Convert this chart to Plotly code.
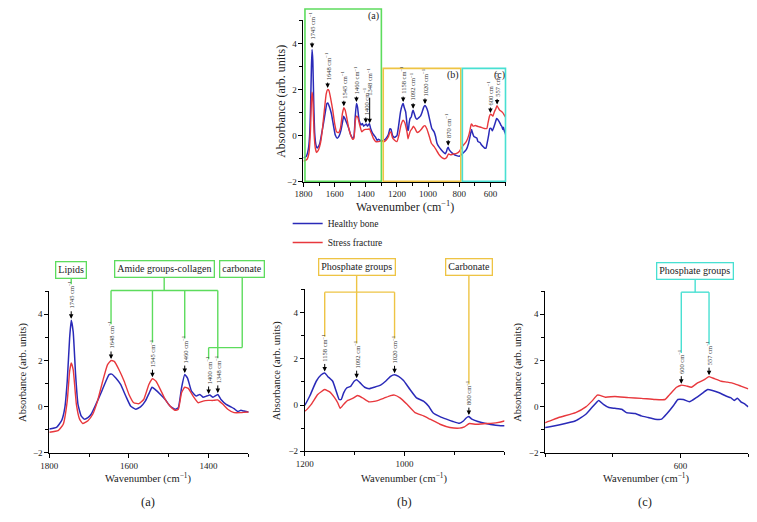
import numpy as np
import plotly.graph_objects as go

# the page body keeps an 8px margin, so the figure is laid out in page pixels minus that offset
OFF = 8
FW, FH = 741, 506
FONT = "Liberation Serif"
BLUE = "#2a2ab8"
RED = "#e8383d"
GREEN = "#5ddc5d"
YELLOW = "#eec444"
CYAN = "#48e0d2"

# FTIR spectra (wavenumber in cm-1, absorbance in arb. units)
wn_healthy = [1800, 1782, 1769, 1761, 1755, 1749, 1745, 1740, 1734, 1728, 1720, 1712, 1703, 1695,
              1683, 1670, 1658, 1650, 1643, 1633, 1621, 1608, 1596, 1583, 1571, 1559, 1549, 1542,
              1534, 1521, 1509, 1497, 1484, 1476, 1468, 1460, 1453, 1443, 1431, 1422, 1414, 1405,
              1397, 1389, 1377, 1369, 1356, 1344, 1336, 1327, 1319, 1311, 1300, 1285, 1270, 1255,
              1245, 1238, 1228, 1215, 1207, 1200, 1190, 1177, 1167, 1160, 1154, 1144, 1137, 1131,
              1127, 1122, 1116, 1108, 1101, 1096, 1089, 1080, 1071, 1061, 1048, 1038, 1028, 1020,
              1012, 1002, 989, 976, 962, 952, 943, 929, 916, 903, 890, 882, 877, 871, 865, 853,
              837, 817, 800, 780, 755, 740, 731, 721, 714, 706, 697, 687, 680, 667, 658, 648, 638,
              628, 621, 611, 604, 596, 587, 577, 567, 560, 553, 543, 533, 526, 521, 516, 511, 506, 500]
abs_healthy = [-0.97, -0.9, -0.6, -0.04, 1.1, 2.96, 3.74, 3.24, 1.39, 0.1, -0.4, -0.54, -0.47, -0.33,
               0.1, 0.6, 1.1, 1.39, 1.41, 1.24, 0.96, 0.46, 0.03, -0.11, -0.01, 0.24, 0.6, 0.84,
               0.74, 0.53, 0.31, 0.03, -0.11, -0.04, 0.81, 1.39, 1.24, 0.67, 0.46, 0.53, 0.41, 0.46,
               0.5, 0.41, 0.53, 0.31, 0.1, -0.01, -0.09, -0.21, -0.16, -0.19, -0.23, -0.2, -0.12, 0.05,
               0.3, 0.28, 0.0, -0.08, -0.04, 0.0, 0.39, 1.03, 1.31, 1.39, 1.24, 1.03, 0.6, 0.24,
               0.24, 0.53, 0.74, 0.81, 1.03, 1.1, 0.96, 0.77, 0.71, 0.77, 0.86, 1.03, 1.24, 1.31,
               1.24, 1.06, 0.67, 0.31, 0.17, -0.04, -0.33, -0.5, -0.61, -0.71, -0.79, -0.69, -0.57, -0.5, -0.61, -0.71,
               -0.8, -0.87, -0.9, -0.79, -0.61, -0.33, -0.04, 0.27, 0.1, -0.04, -0.07, -0.11, -0.26, -0.3, -0.4, -0.47, -0.54,
               -0.54, -0.33, 0.03, 0.31, 0.31, 0.21, 0.39, 0.6, 0.74, 0.7, 0.6, 0.46, 0.39, 0.27, 0.36, 0.21, 0.13, -0.01]

wn_fracture = [1800, 1778, 1765, 1755, 1749, 1745, 1740, 1732, 1724, 1716, 1703, 1691, 1679, 1666,
               1654, 1645, 1637, 1625, 1612, 1600, 1588, 1575, 1563, 1550, 1541, 1532, 1521, 1509,
               1497, 1484, 1476, 1468, 1460, 1451, 1439, 1426, 1414, 1401, 1389, 1377, 1364, 1352,
               1336, 1319, 1300, 1285, 1270, 1255, 1245, 1238, 1228, 1215, 1200, 1187, 1174, 1160,
               1150, 1141, 1134, 1129, 1122, 1114, 1104, 1094, 1084, 1071, 1058, 1042, 1028, 1020,
               1009, 995, 979, 962, 949, 929, 909, 890, 880, 870, 857, 837, 817, 800, 780, 755, 740,
               731, 723, 719, 711, 697, 677, 658, 638, 623, 616, 606, 599, 592, 584, 575, 565, 558,
               550, 540, 531, 521, 511, 500]
abs_fracture = [-1.11, -1.04, -0.76, 0.24, 1.53, 1.89, 1.6, 0.1, -0.54, -0.73, -0.61, -0.33, 0.24, 1.1,
                1.81, 2.0, 1.96, 1.6, 1.1, 0.53, 0.17, 0.13, 0.31, 0.96, 1.21, 1.1, 0.74, 0.31,
                0.03, -0.16, -0.11, 0.6, 0.84, 0.79, 0.46, 0.17, 0.24, 0.27, 0.27, 0.29, 0.1, -0.11,
                -0.26, -0.26, -0.23, -0.27, -0.2, -0.05, 0.15, 0.14, -0.1, -0.2, -0.26, 0.03, 0.46, 0.67,
                0.57, 0.34, 0.1, -0.14, 0.03, 0.2, 0.29, 0.41, 0.31, 0.14, 0.17, 0.29, 0.41, 0.43,
                0.31, 0.03, -0.33, -0.47, -0.61, -0.83, -0.97, -1.0, -0.94, -0.8, -0.83, -0.8, -0.77, -0.69, -0.47, -0.26, -0.01,
                0.24, 0.5, 0.49, 0.41, 0.44, 0.39, 0.36, 0.31, 0.31, 0.53, 0.84, 0.93, 0.9, 0.84, 1.03, 1.17, 1.3,
                1.21, 1.1, 1.06, 1.0, 0.89, 0.77]

# peak markers: where the arrow points / the number printed beside it
top_peaks = [1745, 1645, 1541, 1460, 1400, 1375, 1160, 1096, 1020, 871, 600, 557]
top_peak_text = ["1745", "1648", "1545", "1460", "1400", "1348", "1158", "1092", "1020", "870", "600", "557"]
a_peaks = [1745, 1645, 1541, 1460, 1400, 1377]
a_peak_text = ["1745", "1648", "1545", "1460", "1400", "1348"]
b_peaks = [1160, 1096, 1020, 871]
b_peak_text = ["1158", "1092", "1020", "800"]
c_peaks = [599, 558]
c_peak_text = ["600", "557"]

# panel geometry in page pixels: x span, y span (value 5 .. -2), x range
PANELS = {
    "top": dict(px=(298, 503), py=(20.6, 183.4), xr=(1800, 500), ax=("x", "y")),
    "a": dict(px=(40.7, 242.3), py=(294, 457.3), xr=(1800, 1300), ax=("x2", "y2")),
    "b": dict(px=(299.3, 501.3), py=(292.3, 455.7), xr=(1200, 800), ax=("x3", "y3")),
    "c": dict(px=(542.7, 748.3), py=(294, 457.3), xr=(800, 500), ax=("x4", "y4")),
}
YR = (-2, 5)


def xpx(p, v):
    g = PANELS[p]
    r0, r1 = g["xr"]
    return g["px"][0] + (v - r0) / (r1 - r0) * (g["px"][1] - g["px"][0])


def ypx(p, v):
    g = PANELS[p]
    return g["py"][1] - (v - YR[0]) / (YR[1] - YR[0]) * (g["py"][1] - g["py"][0])


def fx(px):
    return (px - OFF) / FW


def fy(py):
    return 1 - (py - OFF) / FH


def peak_height(v):
    h = np.interp(v, wn_healthy[::-1], abs_healthy[::-1])
    f = np.interp(v, wn_fracture[::-1], abs_fracture[::-1])
    return max(h, f)


def note(text, x, y, **kw):
    d = dict(text=text, x=fx(x), y=fy(y), xref="paper", yref="paper", showarrow=False,
             xanchor="center", yanchor="middle")
    d.update(kw)
    return d


fig = go.Figure()
annotations = []
shapes = []

for name, g in PANELS.items():
    xa, ya = g["ax"]
    first = name == "top"
    fig.add_trace(go.Scatter(x=wn_healthy, y=abs_healthy, mode="lines", name="Healthy bone",
                             line=dict(color=BLUE, width=1.5, shape="spline", smoothing=0.4),
                             xaxis=xa, yaxis=ya, showlegend=first))
    fig.add_trace(go.Scatter(x=wn_fracture, y=abs_fracture, mode="lines", name="Stress fracture",
                             line=dict(color=RED, width=1.4, shape="spline", smoothing=0.4),
                             xaxis=xa, yaxis=ya, showlegend=first))

tick_vals = {
    "top": [1800, 1600, 1400, 1200, 1000, 800, 600],
    "a": [1800, 1600, 1400],
    "b": [1200, 1000],
    "c": [600],
}

layout_axes = {}
for name, g in PANELS.items():
    xa, ya = g["ax"]
    xkey = "xaxis" + xa[1:]
    ykey = "yaxis" + ya[1:]
    common = dict(showline=True, linecolor="black", linewidth=1, ticks="outside", ticklen=4,
                  tickcolor="black", showgrid=False, zeroline=False,
                  tickfont=dict(family=FONT, size=9, color="#222"))
    layout_axes[xkey] = dict(common, domain=[fx(g["px"][0]), fx(g["px"][1])], range=list(g["xr"]),
                             anchor=ya, tickmode="array", tickvals=tick_vals[name],
                             minor=dict(dtick=100, ticks="outside", ticklen=3, tickcolor="black"))
    layout_axes[ykey] = dict(common, domain=[fy(g["py"][1]), fy(g["py"][0])], range=list(YR),
                             anchor=xa, tickmode="array", tickvals=[-2, 0, 2, 4],
                             minor=dict(dtick=1, ticks="outside", ticklen=3, tickcolor="black"))

# axis titles
title_font_top = dict(family=FONT, size=12, color="#222")
title_font_bot = dict(family=FONT, size=10.5, color="#222")
axis_titles = [
    ("top", 275, 208, title_font_top),
    ("a", 14, 482.5, title_font_bot),
    ("b", 272, 482.5, title_font_bot),
    ("c", 515, 482.5, title_font_bot),
]
for name, ytx, xty, fnt in axis_titles:
    g = PANELS[name]
    annotations.append(note("Absorbance (arb. units)", ytx, (g["py"][0] + g["py"][1]) / 2,
                            textangle=-90, font=fnt))
    annotations.append(note("Wavenumber (cm<sup>−1</sup>)", (g["px"][0] + g["px"][1]) / 2, xty, font=fnt))

for lab, x in [("(a)", 141), ("(b)", 400), ("(c)", 644)]:
    annotations.append(note(lab, x, 507, font=dict(family=FONT, size=12.5, color="#222")))

# peak labels with arrows; keeps the pixel position of each label's upper end
label_top = {}


def add_peaks(panel, peaks, texts, arrow=9, long_arrow=None):
    for v, t in zip(peaks, texts):
        al = arrow
        if long_arrow and t in long_arrow:
            al = long_arrow[t]
        tip_y = ypx(panel, peak_height(v)) - 1.5
        x = xpx(panel, v)
        annotations.append(dict(text="", x=fx(x), y=fy(tip_y), xref="paper", yref="paper",
                                showarrow=True, ax=0, ay=-al, arrowhead=2, arrowsize=0.9,
                                arrowwidth=1, arrowcolor="black"))
        annotations.append(note(t + " cm<sup>−1</sup>", x, tip_y - al, textangle=-90,
                                yanchor="bottom", borderpad=0,
                                font=dict(family=FONT, size=6.5, color="#333")))
        label_top[(panel, t)] = (x, tip_y - al - (26 if len(t) == 4 else 22))


add_peaks("top", top_peaks, top_peak_text, arrow=7, long_arrow={"1348": 27})
add_peaks("a", a_peaks, a_peak_text)
add_peaks("b", b_peaks, b_peak_text)
add_peaks("c", c_peaks, c_peak_text)

# region boxes on the overview spectrum
box_style = dict(type="rect", xref="paper", yref="paper", fillcolor="rgba(0,0,0,0)", layer="above")
shapes.append(dict(box_style, x0=fx(299.5), x1=fx(xpx("top", 1300)), y0=fy(183), y1=fy(9),
                   line=dict(color=GREEN, width=1.6)))
shapes.append(dict(box_style, x0=fx(xpx("top", 1288)), x1=fx(xpx("top", 790)), y0=fy(183), y1=fy(69),
                   line=dict(color=YELLOW, width=1.6)))
shapes.append(dict(box_style, x0=fx(xpx("top", 780)), x1=fx(502.5), y0=fy(183), y1=fy(69),
                   line=dict(color=CYAN, width=1.6)))
for lab, x, y in [("(a)", 369, 16), ("(b)", 449, 76), ("(c)", 496, 76)]:
    annotations.append(note(lab, x, y, font=dict(family=FONT, size=10, color="#222")))


def seg(x0, y0, x1, y1, color):
    shapes.append(dict(type="line", xref="paper", yref="paper", x0=fx(x0), y0=fy(y0),
                       x1=fx(x1), y1=fy(y1), line=dict(color=color, width=1.4), layer="above"))


def group_box(text, x, y, color):
    annotations.append(note(text, x, y, bordercolor=color, borderwidth=1.3, borderpad=2,
                            bgcolor="white", font=dict(family=FONT, size=10, color="#222")))


def bracket(panel, texts, bar_y, box_x, box_y, color, label):
    xs = [label_top[(panel, t)][0] for t in texts]
    if len(xs) > 1:
        seg(min(xs), bar_y, max(xs), bar_y, color)
        seg(box_x, box_y, box_x, bar_y, color)
    for t in texts:
        x, top = label_top[(panel, t)]
        seg(x, bar_y, x, top, color)
    group_box(label, box_x, box_y, color)


# panel (a)
lx, lt = label_top[("a", "1745")]
seg(lx, 272.5, lx, lt, GREEN)
group_box("Lipids", lx, 272.5, GREEN)
bracket("a", ["1648", "1545", "1460", "1348"], 293.3, 157, 271.5, GREEN, "Amide groups-collagen")
cx, ct = label_top[("a", "1400")]
seg(236, 271.5, 236, 351, GREEN)
seg(236, 351, cx, 351, GREEN)
seg(cx, 351, cx, ct, GREEN)
group_box("carbonate", 236, 271.5, GREEN)

# panel (b)
bx = label_top[("b", "1092")][0]
bracket("b", ["1158", "1020"], 295, bx, 270, YELLOW, "Phosphate groups")
seg(bx, 295, bx, label_top[("b", "1092")][1], YELLOW)
kx, kt = label_top[("b", "800")]
seg(kx, 270, kx, kt, YELLOW)
group_box("Carbonate", kx, 270, YELLOW)

# panel (c)
bracket("c", ["600", "557"], 295, 694.5, 273.3, CYAN, "Phosphate groups")

fig.update_layout(
    width=FW, height=FH, autosize=False,
    margin=dict(l=0, r=0, t=0, b=0),
    paper_bgcolor="white", plot_bgcolor="white",
    font=dict(family=FONT, color="#222"),
    annotations=annotations, shapes=shapes,
    legend=dict(x=fx(282), y=fy(211), xanchor="left", yanchor="top", bgcolor="rgba(0,0,0,0)",
                font=dict(family=FONT, size=9.5, color="#222"), tracegroupgap=0, itemwidth=30),
    **layout_axes,
)

fig.write_html("out.html")
